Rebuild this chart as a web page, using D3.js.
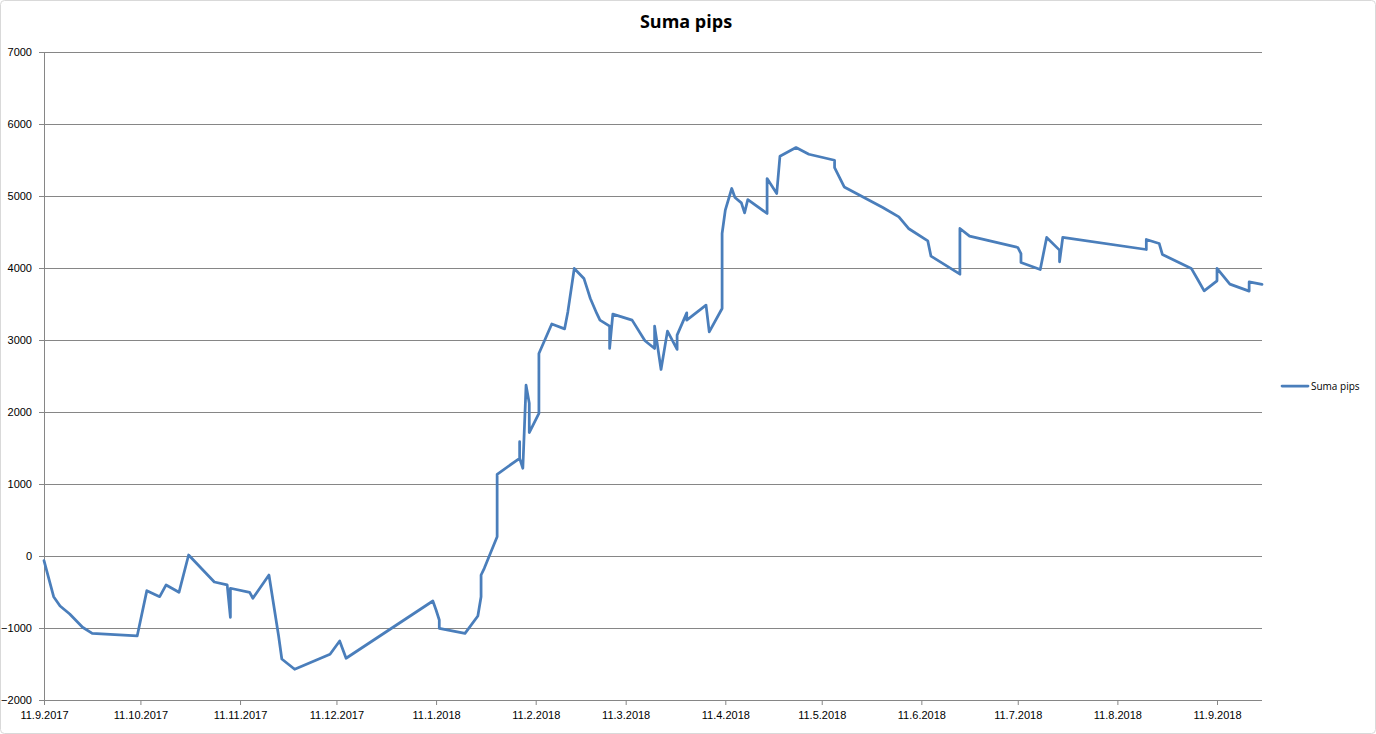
<!DOCTYPE html>
<html>
<head>
<meta charset="utf-8">
<script src="https://cdn.jsdelivr.net/npm/d3@7/dist/d3.min.js"></script>
<style>
  html, body { margin: 0; padding: 0; background: #fff; }
  svg { display: block; font-family: "Open Sans", "Noto Sans", "DejaVu Sans", sans-serif; }
</style>
</head>
<body>
<svg id="chart" width="1376" height="734"></svg>
<script>
const title = "Suma pips";
const seriesName = "Suma pips";

const dates = [
  "2017-09-11","2017-09-14","2017-09-16","2017-09-19","2017-09-23","2017-09-26",
  "2017-10-10","2017-10-13","2017-10-17","2017-10-19","2017-10-23","2017-10-26",
  "2017-11-03","2017-11-07","2017-11-08","2017-11-08","2017-11-14","2017-11-15",
  "2017-11-20","2017-11-23","2017-11-24","2017-11-28",
  "2017-12-09","2017-12-12","2017-12-14",
  "2018-01-10","2018-01-11","2018-01-12","2018-01-12","2018-01-20","2018-01-24",
  "2018-01-25","2018-01-25","2018-01-26","2018-01-30","2018-01-30",
  "2018-02-06","2018-02-06","2018-02-06","2018-02-07","2018-02-08","2018-02-09","2018-02-09",
  "2018-02-12","2018-02-12","2018-02-16","2018-02-20","2018-02-21","2018-02-23",
  "2018-02-26","2018-02-27","2018-02-28",
  "2018-03-02","2018-03-03","2018-03-06","2018-03-06","2018-03-07","2018-03-13",
  "2018-03-17","2018-03-20","2018-03-20","2018-03-22","2018-03-24","2018-03-27",
  "2018-03-27","2018-03-30","2018-03-30",
  "2018-04-05","2018-04-06","2018-04-10","2018-04-10","2018-04-11","2018-04-13",
  "2018-04-14","2018-04-16","2018-04-17","2018-04-18","2018-04-24","2018-04-24",
  "2018-04-27","2018-04-28",
  "2018-05-03","2018-05-07","2018-05-15","2018-05-15","2018-05-18","2018-05-30",
  "2018-06-04","2018-06-07","2018-06-13","2018-06-14","2018-06-23","2018-06-23","2018-06-26",
  "2018-07-11","2018-07-12","2018-07-12","2018-07-18","2018-07-20","2018-07-24",
  "2018-07-24","2018-07-25",
  "2018-08-20","2018-08-20","2018-08-24","2018-08-25",
  "2018-09-03","2018-09-05","2018-09-07","2018-09-11","2018-09-11","2018-09-15",
  "2018-09-21","2018-09-21","2018-09-25"
];

const values = [
  -65, -565, -694, -805, -990, -1074,
  -1110, -481, -565, -402, -504, 14,
  -361, -402, -851, -448, -504, -587,
  -264, -1110, -1430, -1573,
  -1365, -1180, -1420,
  -625, -750, -889, -1004, -1074, -833,
  -565, -264, -171, 268, 1135,
  1357, 1587, 1357, 1218, 2373, 2120, 1715,
  1980, 2813, 3222, 3155, 3390, 3994,
  3855, 3716, 3577,
  3369, 3276, 3193, 2882, 3360, 3276,
  2989, 2882, 3193, 2591, 3123, 2869,
  3068, 3377, 3276,
  3484, 3113, 3438, 4479, 4803, 5104,
  4979, 4904, 4766, 4951, 4757, 5243,
  5035, 5552,
  5673, 5580, 5497, 5395, 5126, 4840,
  4710, 4549, 4377, 4164, 3914, 4549, 4442,
  4285, 4200, 4077, 3979, 4424, 4248,
  4086, 4424,
  4257, 4396, 4341, 4188,
  3994, 3840, 3683, 3822, 3994, 3776,
  3679, 3807, 3772
];

const yTicks = [-2000, -1000, 0, 1000, 2000, 3000, 4000, 5000, 6000, 7000];
const xTickLabels = ["11.9.2017","11.10.2017","11.11.2017","11.12.2017","11.1.2018","11.2.2018",
  "11.3.2018","11.4.2018","11.5.2018","11.6.2018","11.7.2018","11.8.2018","11.9.2018"];

(function () {
  const parse = d3.timeParse("%Y-%m-%d");
  const data = dates.map((d, i) => ({ date: parse(d), value: values[i] }));
  const tickDates = xTickLabels.map(s => d3.timeParse("%d.%m.%Y")(s));

  const svg = d3.select("#chart");
  const mLeft = 44, mRight = 1262, mTop = 52, mBottom = 700;

  const x = d3.scaleTime()
    .domain([parse("2017-09-11"), parse("2018-09-25")])
    .range([mLeft, mRight]);
  const y = d3.scaleLinear().domain([-2000, 7000]).range([mBottom, mTop]);

  // chart border
  svg.append("rect")
    .attr("x", 0.5).attr("y", 0.5).attr("width", 1375).attr("height", 733)
    .attr("rx", 4).attr("fill", "none").attr("stroke", "#d9d9d9");

  // gridlines + y axis
  const yAxis = d3.axisLeft(y).tickValues(yTicks).tickSize(-(mRight - mLeft)).tickPadding(12).tickFormat(d3.format("d"));
  const gy = svg.append("g").attr("transform", `translate(${mLeft},0)`).call(yAxis);
  gy.select(".domain").remove();
  gy.selectAll(".tick line").attr("stroke", "#868686").attr("stroke-width", 1).attr("x1", -5);
  gy.selectAll(".tick text").attr("fill", "#000").style("font-size", "11px");

  // y axis line
  svg.append("line").attr("x1", mLeft + 0.5).attr("x2", mLeft + 0.5).attr("y1", mTop).attr("y2", mBottom)
    .attr("stroke", "#868686");

  // x axis
  const xAxis = d3.axisBottom(x).tickValues(tickDates).tickSize(5).tickPadding(6)
    .tickFormat((d, i) => xTickLabels[i]);
  const gx = svg.append("g").attr("transform", `translate(0,${mBottom})`).call(xAxis);
  gx.select(".domain").attr("stroke", "#868686").attr("d", `M${mLeft},0.5H${mRight}`);
  gx.selectAll(".tick line").attr("stroke", "#868686");
  gx.selectAll(".tick text").attr("fill", "#000").style("font-size", "11px");

  // line
  const line = d3.line().x(d => x(d.date)).y(d => y(d.value));
  svg.append("path").datum(data)
    .attr("d", line)
    .attr("fill", "none")
    .attr("stroke", "#4a7ebb")
    .attr("stroke-width", 2.75)
    .attr("stroke-linejoin", "round")
    .attr("stroke-linecap", "round");

  // title
  svg.append("text").attr("x", 686).attr("y", 28).attr("text-anchor", "middle")
    .style("font-size", "18px").style("font-weight", "bold").text(title);

  // legend
  svg.append("line").attr("x1", 1282).attr("x2", 1308).attr("y1", 386).attr("y2", 386)
    .attr("stroke", "#4a7ebb").attr("stroke-width", 2.75).attr("stroke-linecap", "round");
  svg.append("text").attr("x", 1311).attr("y", 390).style("font-size", "10px").text(seriesName);
})();
</script>
</body>
</html>
